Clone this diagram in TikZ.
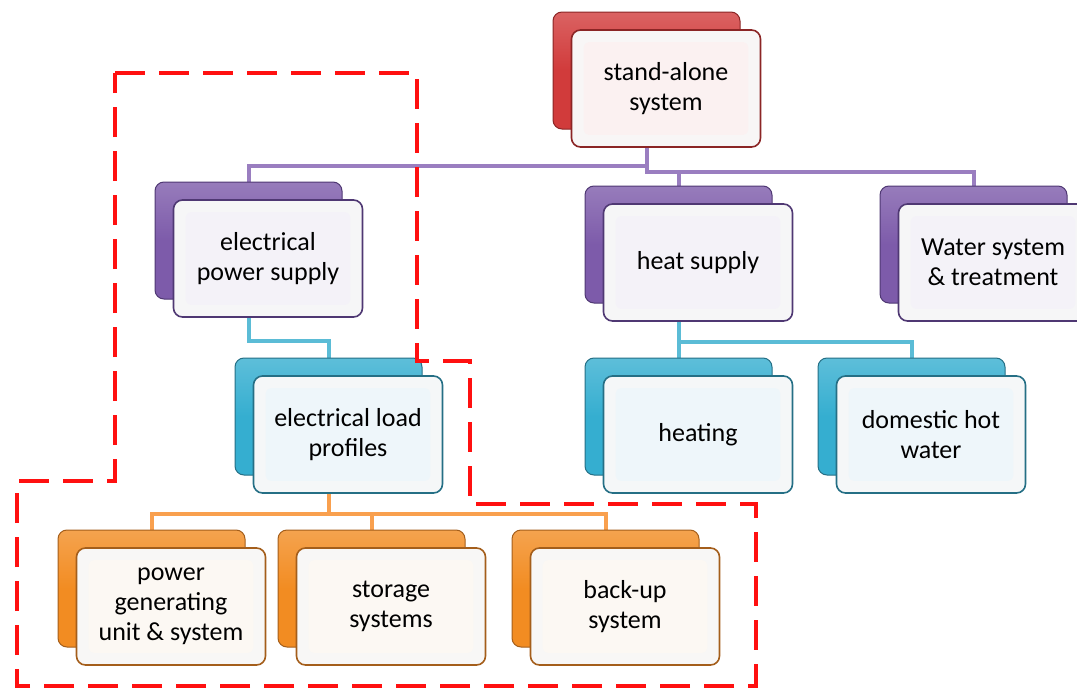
\documentclass[tikz,border=0pt]{standalone}
\usepackage{fontspec}
\setmainfont{Carlito}
\usetikzlibrary{calc}
\pgfdeclarelayer{background}
\pgfsetlayers{background,main}
\definecolor{redback}{HTML}{D13B3B}
\definecolor{reddark}{HTML}{8B2525}
\definecolor{redtint}{HTML}{FBF1F1}
\definecolor{purpback}{HTML}{7D5BAA}
\definecolor{purpdark}{HTML}{4F3873}
\definecolor{purptint}{HTML}{F4F2F8}
\definecolor{cyanback}{HTML}{35AED0}
\definecolor{cyandark}{HTML}{256F85}
\definecolor{cyantint}{HTML}{EEF6FA}
\definecolor{orangeback}{HTML}{F28C22}
\definecolor{orangedark}{HTML}{A45E1B}
\definecolor{orangetint}{HTML}{FCF8F3}
\definecolor{purpline}{HTML}{9A7EC0}
\definecolor{cyanline}{HTML}{5BBCD6}
\definecolor{orangeline}{HTML}{F9A04E}
\definecolor{dashred}{HTML}{FF1010}
\tikzset{
  backbox/.style={rounded corners=9, minimum width=187, minimum height=117, inner sep=0, line width=1},
  frontbox/.style={rounded corners=9, minimum width=189, minimum height=117, inner sep=0, line width=1.6},
  boxtext/.style={align=center, font=\fontsize{26}{30}\selectfont, text=black},
  conn/.style={line width=4},
  region/.style={draw=dashred, line width=4, dash pattern=on 30 off 14}
}
\newcommand\duo[5]{%
  \node[backbox, draw=#4dark, top color=#4back!80!white, bottom color=#4back, middle color=#4back] (#1b) at (#2+93.5, #3+58.5) {};
  \node[frontbox, draw=#4dark, fill=#4tint!80!gray!25] (#1) at (#2+113, #3+76.5) {};
  \fill[#4tint, rounded corners=5] ($(#1.north west)+(13,13)$) rectangle ($(#1.south east)+(-13,-13)$);
  \node[boxtext] (#1t) at (#1) {#5};
}
\begin{document}
\begin{tikzpicture}[x=1pt,y=-1pt]
\useasboundingbox (0,0) rectangle (1077,688);
\duo{sa}{553}{12}{red}{stand-alone\\system}
\duo{ep}{155}{182}{purp}{electrical\\power supply}
\duo{hs}{585}{186}{purp}{heat supply}
\duo{ws}{880}{186}{purp}{Water system\\\& treatment}
\duo{lp}{235}{358}{cyan}{electrical load\\profiles}
\duo{ht}{585}{358}{cyan}{heating}
\duo{dw}{818}{358}{cyan}{domestic hot\\water}
\duo{pg}{58}{530}{orange}{power\\generating\\unit \& system}
\duo{st}{278}{530}{orange}{storage\\systems}
\duo{bu}{512}{530}{orange}{back-up\\system}
\coordinate (busA) at (0,166);
\coordinate (busB) at (0,172);
\coordinate (busC) at (0,341);
\coordinate (busD) at (0,342);
\coordinate (busE) at (0,514);
\begin{pgfonlayer}{background}
\draw[conn, purpline] (sab.south |- sa.south) |- (sab.south |- busA) -| (epb.north);
\draw[conn, purpline] (sab.south |- sa.south) |- (sab.south |- busB) -| (hsb.north);
\draw[conn, purpline] (hsb.north |- busB) -| (wsb.north);
\draw[conn, cyanline] (epb.south |- ep.south) |- (epb.south |- busC) -| (lpb.north);
\draw[conn, cyanline] (hsb.south |- hs.south) -- (htb.north);
\draw[conn, cyanline] (hsb.south |- busD) -| (dwb.north);
\draw[conn, orangeline] (lpb.south |- lp.south) -- (lpb.south |- busE);
\draw[conn, orangeline] (pgb.north) |- (lpb.south |- busE) -| (bub.north);
\draw[conn, orangeline] (stb.north) -- (stb.north |- busE);
\end{pgfonlayer}
\coordinate (r1) at (115,73);
\coordinate (r2) at (417,73);
\coordinate (r3) at (417,361);
\coordinate (r4) at (470,361);
\coordinate (r5) at (470,504);
\coordinate (r6) at (756,504);
\coordinate (r7) at (756,686);
\coordinate (r8) at (17,686);
\coordinate (r9) at (17,481);
\coordinate (r10) at (115,481);
\draw[region] (r1) -- (r2) -- (r3) -- (r4) -- (r5) -- (r6) -- (r7) -- (r8) -- (r9) -- (r10) -- cycle;
\end{tikzpicture}
\end{document}
